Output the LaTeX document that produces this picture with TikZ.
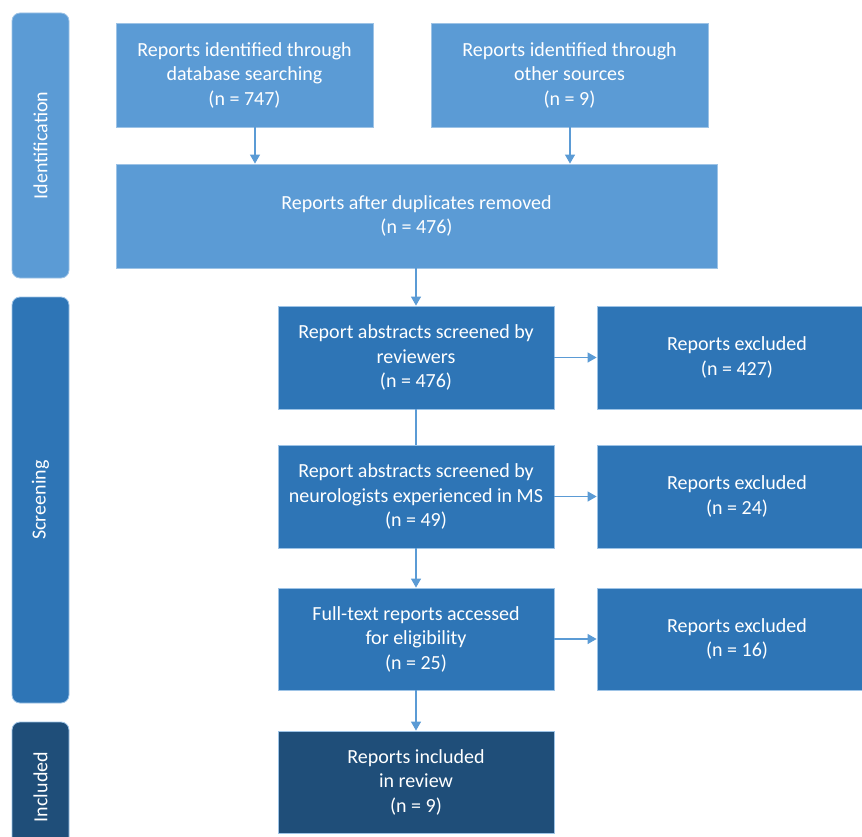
\documentclass[tikz,border=0pt]{standalone}
\usepackage{fontspec}
\setmainfont{Carlito}
\usetikzlibrary{arrows.meta}
\definecolor{idblue}{HTML}{5B9BD5}
\definecolor{scblue}{HTML}{2E75B6}
\definecolor{inblue}{HTML}{1F4E79}
\definecolor{edgeblue}{HTML}{9DC3E6}

\begin{document}
\begin{tikzpicture}[x=1pt, y=-1pt,
        b/.style={draw=edgeblue, line width=0.8pt, align=center, text=white,
          font=\fontsize{20}{24.5}\selectfont, inner sep=0pt, minimum width=276pt, minimum height=103pt},
        side/.style={draw=edgeblue, line width=0.8pt, rounded corners=8pt, rotate=90, text=white,
          font=\fontsize{20}{22}\selectfont, minimum height=57pt},
        arr/.style={-{Triangle[length=9pt, width=10pt]}, idblue, line width=1.2pt}]
      \useasboundingbox (0,0) rectangle (862,837);
      \clip (0,0) rectangle (862,837);
      % phase bars on the left
      \node[side, fill=idblue, minimum width=265pt] (phid) at (40.5,145.5) {Identification};
      \node[side, fill=scblue, minimum width=406pt] (phsc) at (40.5,500) {Screening};
      \node[side, fill=inblue, minimum width=130pt] (phin) at (40.5,787) {Included};
      % identification
      \node[b, fill=idblue, minimum width=257pt, minimum height=104pt] (db) at (244.5,75) {Reports identified through\\database searching\\(n = 747)};
      \node[b, fill=idblue, minimum width=277pt, minimum height=104pt] (oth) at (569.5,75) {Reports identified through\\other sources\\(n = 9)};
      \node[b, fill=idblue, minimum width=601pt, minimum height=104pt] (dup) at (416.5,216) {Reports after duplicates removed\\(n = 476)};
      % screening
      \node[b, fill=scblue] (rev) at (416,357.5) {Report abstracts screened by\\reviewers\\(n = 476)};
      \node[b, fill=scblue, minimum width=280pt] (exrev) at (737,357.5) {Reports excluded\\(n = 427)};
      \node[b, fill=scblue] (neu) at (416,496.5) {Report abstracts screened by\\neurologists experienced in MS\\(n = 49)};
      \node[b, fill=scblue, minimum width=280pt] (exneu) at (737,496.5) {Reports excluded\\(n = 24)};
      \node[b, fill=scblue, minimum height=102pt] (full) at (416,639) {Full-text reports accessed\\for eligibility\\(n = 25)};
      \node[b, fill=scblue, minimum width=280pt, minimum height=102pt] (exfull) at (737,639) {Reports excluded\\(n = 16)};
      % included
      \node[b, fill=inblue, minimum height=102pt] (inc) at (416,782) {Reports included\\in review\\(n = 9)};
      % connectors
      \draw[arr] (db.south -| 255,0) -- (dup.north -| 255,0);
      \draw[arr] (oth.south -| 570,0) -- (dup.north -| 570,0);
      \draw[arr] (dup.south -| rev) -- (rev.north);
      \draw[idblue, line width=1.2pt] (rev.south) -- (neu.north);
      \draw[arr] (neu) -- (full);
      \draw[arr] (full) -- (inc);
      \draw[arr] (rev) -- (exrev);
      \draw[arr] (neu) -- (exneu);
      \draw[arr] (full) -- (exfull);
\end{tikzpicture}
\end{document}
